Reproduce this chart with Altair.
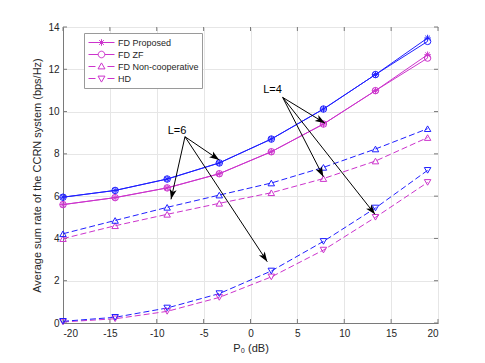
import math
import altair as alt
import pandas as pd

# ---------------- data ----------------
x_db = [-20, -14.44, -8.89, -3.33, 2.22, 7.78, 13.33, 18.89]
# L = 6 (blue)
fdp_L6 = [5.95, 6.27, 6.81, 7.57, 8.70, 10.12, 11.75, 13.48]
fdzf_L6 = [5.95, 6.27, 6.81, 7.57, 8.70, 10.12, 11.75, 13.32]
fdnc_L6 = [4.22, 4.85, 5.47, 6.05, 6.62, 7.36, 8.23, 9.19]
hd_L6 = [0.08, 0.27, 0.71, 1.39, 2.46, 3.86, 5.44, 7.22]
# L = 4 (magenta)
fdp_L4 = [5.60, 5.93, 6.39, 7.06, 8.10, 9.41, 10.99, 12.69]
fdzf_L4 = [5.60, 5.93, 6.39, 7.06, 8.10, 9.41, 10.99, 12.53]
fdnc_L4 = [3.99, 4.60, 5.14, 5.66, 6.16, 6.83, 7.66, 8.77]
hd_L4 = [0.05, 0.20, 0.55, 1.21, 2.18, 3.45, 5.00, 6.65]

series_names = ["FD Proposed", "FD ZF", "FD Non-cooperative", "HD"]
L_names = ["L=4", "L=6"]

x_ticks = [-20, -15, -10, -5, 0, 5, 10, 15, 20]
y_ticks = [0, 2, 4, 6, 8, 10, 12, 14]

# annotations (data coordinates)
ann_text = ["L=6", "L=4"]
ann_text_x = [-7.84, 2.35]
ann_text_y = [9.08, 11.0]
arrow_group = ["L=6", "L=6", "L=6", "L=4", "L=4", "L=4"]
arrow_x1 = [-6.99, -6.99, -6.99, 3.43, 3.43, 3.43]
arrow_y1 = [8.81, 8.81, 8.81, 10.67, 10.67, 10.67]
arrow_x2 = [-3.33, -8.48, 1.79, 7.95, 7.77, 13.28]
arrow_y2 = [7.71, 5.85, 2.90, 9.45, 6.92, 5.14]

# ---------------- styling ----------------
BLUE = "#1f1fff"
MAG = "#cc33cc"
FONT = "Liberation Sans"
W, H = 375, 296
XMIN, XMAX, YMIN, YMAX = -20, 20, 0, 14
TX = 4 * (XMAX - XMIN) / W   # 4 px inward tick, in x units
TY = 4 * (YMAX - YMIN) / H   # 4 px inward tick, in y units

STAR = "M0,-1L0,1M-1,0L1,0M-0.7,-0.7L0.7,0.7M-0.7,0.7L0.7,-0.7"
ARROW = "M0,0L-0.7,2L0,1.5L0.7,2Z"

# legend symbols: line sample + marker (unit = 6 px at size 144)
LEG_P = ("M-0.83,0L3.5,0"
         "M1.333,-0.55L1.333,0.55M0.783,0L1.883,0"
         "M0.944,-0.389L1.722,0.389M0.944,0.389L1.722,-0.389")
LEG_ZF = ("M-0.83,0L0.783,0M1.883,0L3.5,0"
          "M1.883,0A0.55,0.55 0 1,1 0.783,0A0.55,0.55 0 1,1 1.883,0")
LEG_NC = "M-0.83,0L0.33,0M2.33,0L3.5,0M1.333,-0.6L1.91,0.4L0.756,0.4Z"
LEG_HD = "M-0.83,0L0.33,0M2.33,0L3.5,0M1.333,0.6L1.91,-0.4L0.756,-0.4Z"

# ---------------- tables ----------------
rows = []
for L, sets in (("L=4", [fdp_L4, fdzf_L4, fdnc_L4, hd_L4]),
                ("L=6", [fdp_L6, fdzf_L6, fdnc_L6, hd_L6])):
    for name, vals in zip(series_names, sets):
        for xv, yv in zip(x_db, vals):
            rows.append({"L": L, "series": name, "key": L + name,
                         "x": xv, "y": yv,
                         "solid": name in ("FD Proposed", "FD ZF")})
df = pd.DataFrame(rows)

arr = pd.DataFrame({"g": arrow_group, "x1": arrow_x1, "y1": arrow_y1,
                    "x2": arrow_x2, "y2": arrow_y2})
px_x = W / (XMAX - XMIN)
px_y = H / (YMAX - YMIN)
arr["ang"] = [
    math.degrees(math.atan2((b - a) * px_x, (d - c) * px_y)) % 360
    for a, b, c, d in zip(arr.x1, arr.x2, arr.y1, arr.y2)
]
txt = pd.DataFrame({"t": ann_text, "x": ann_text_x, "y": ann_text_y})
leg = pd.DataFrame({"name": series_names})

tk = pd.DataFrame(
    [{"x": v, "x2": v, "y": YMIN, "y2": YMIN + TY} for v in x_ticks]
    + [{"x": v, "x2": v, "y": YMAX, "y2": YMAX - TY} for v in x_ticks]
    + [{"x": XMIN, "x2": XMIN + TX, "y": v, "y2": v} for v in y_ticks]
    + [{"x": XMAX, "x2": XMAX - TX, "y": v, "y2": v} for v in y_ticks])

xscale = alt.Scale(domain=[XMIN, XMAX], nice=False, zero=False)
yscale = alt.Scale(domain=[YMIN, YMAX], nice=False, zero=False)
xenc = alt.X("x:Q", scale=xscale, axis=alt.Axis(
    values=x_ticks, title="P\u2080 (dB)", labelExpr="'' + datum.value",
    ticks=False, labelPadding=5, titlePadding=4))
yenc = alt.Y("y:Q", scale=yscale, axis=alt.Axis(
    values=y_ticks, title="Average sum rate of the CCRN system (bps/Hz)",
    labelExpr="'' + datum.value", ticks=False, labelPadding=4,
    titlePadding=5))
color = alt.Color("L:N", scale=alt.Scale(domain=L_names, range=[MAG, BLUE]),
                  legend=None)

base = alt.Chart(df)
solid_lines = base.transform_filter("datum.solid").mark_line(
    strokeWidth=1).encode(x=xenc, y=yenc, color=color, detail="key:N")
dash_lines = base.transform_filter("!datum.solid").mark_line(
    strokeWidth=1, strokeDash=[6, 3]).encode(
    x=xenc, y=yenc, color=color, detail="key:N")
points = base.mark_point(filled=False, size=42, strokeWidth=1,
                         opacity=1).encode(
    x=xenc, y=yenc, color=color,
    shape=alt.Shape("series:N", scale=alt.Scale(
        domain=series_names,
        range=[STAR, "circle", "triangle-up", "triangle-down"]),
        legend=None))

legend_layer = alt.Chart(leg).mark_point(
    filled=False, opacity=0, color=MAG, strokeWidth=1).encode(
    x=alt.value(0), y=alt.value(0),
    shape=alt.Shape("name:N", scale=alt.Scale(
        domain=series_names, range=[LEG_P, LEG_ZF, LEG_NC, LEG_HD]),
        legend=alt.Legend(
            title=None, orient="none", legendX=21, legendY=6,
            symbolSize=144, symbolStrokeColor=MAG, symbolFillColor="transparent",
            symbolStrokeWidth=1, symbolOpacity=1,
            labelFont=FONT, labelFontSize=9, labelColor="#262626",
            labelOffset=18, padding=3, rowPadding=0,
            strokeColor="#9a9a9a", fillColor="white", cornerRadius=0)))

arrow_lines = alt.Chart(arr).mark_rule(color="black", strokeWidth=1).encode(
    x=alt.X("x1:Q", scale=xscale), y=alt.Y("y1:Q", scale=yscale),
    x2="x2:Q", y2="y2:Q")
arrow_heads = alt.Chart(arr).mark_point(
    shape=ARROW, filled=True, color="black", size=100, opacity=1).encode(
    x=alt.X("x2:Q", scale=xscale), y=alt.Y("y2:Q", scale=yscale),
    angle=alt.Angle("ang:Q", scale=None))
labels = alt.Chart(txt).mark_text(font=FONT, fontSize=11, color="black",
                                  align="center", baseline="middle").encode(
    x=alt.X("x:Q", scale=xscale), y=alt.Y("y:Q", scale=yscale), text="t:N")
ticks = alt.Chart(tk).mark_rule(color="#7a7a7a", strokeWidth=1).encode(
    x=alt.X("x:Q", scale=xscale), x2="x2:Q",
    y=alt.Y("y:Q", scale=yscale), y2="y2:Q")

chart = alt.layer(
    ticks, dash_lines, solid_lines, points,
    arrow_lines, arrow_heads, labels, legend_layer,
).resolve_scale(shape="independent").properties(
    width=W, height=H,
    autosize=alt.AutoSizeParams(type="none"),
    padding={"left": 55, "top": 19, "right": 20, "bottom": 31},
    background="white",
).configure_view(stroke="#7a7a7a", strokeWidth=1).configure_axis(
    grid=True, gridColor="#e6e6e6", gridWidth=1,
    domainColor="#7a7a7a", domainWidth=1,
    labelFont=FONT, labelFontSize=10, labelColor="#262626",
    titleFont=FONT, titleFontSize=11, titleColor="#262626",
    titleFontWeight="normal",
)

chart.save("out.html", embed_options={"renderer": "svg", "actions": False})
